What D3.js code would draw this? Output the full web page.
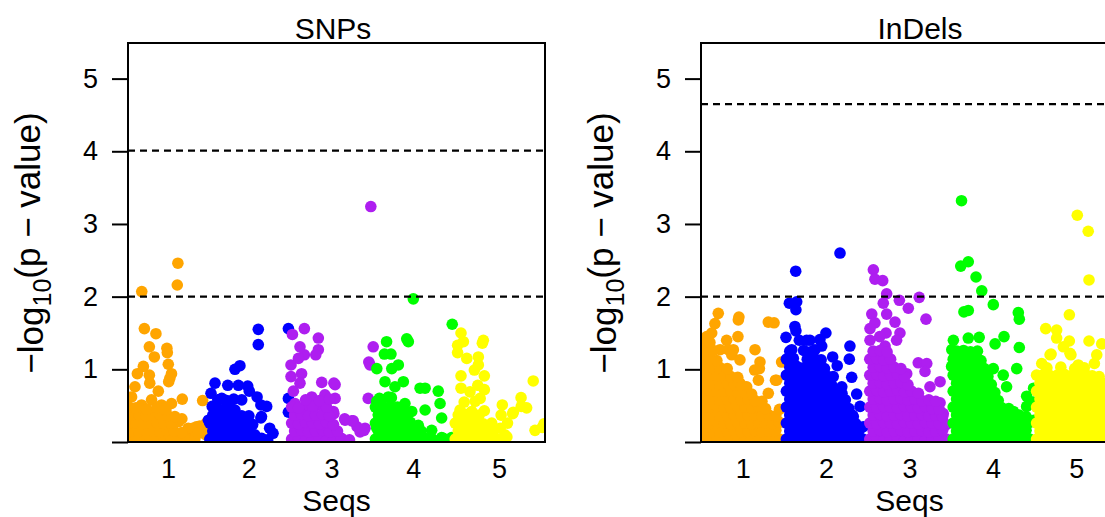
<!DOCTYPE html>
<html lang="en">
<head>
<meta charset="UTF-8">
<title>Manhattan plots - SNPs and InDels</title>
<script src="https://d3js.org/d3.v7.min.js"></script>
<style>
  body { margin: 0; background: #ffffff; }
  svg { display: block; font-family: "Liberation Sans", Arial, sans-serif; }
</style>
</head>
<body>
<div id="chart"></div>
<script>
// Chromosome labels, colours and axis ticks
const chrLabels = ["1", "2", "3", "4", "5"];
const chrColors = ["#FFA500", "#0000FF", "#AE1EF0", "#00FF00", "#FFFF00"];
const yTicks = [0, 1, 2, 3, 4, 5];
const yMax = 5.49;

// Chromosome lengths (marker index units) for each panel
const snpChrLen = [40, 41, 42, 40, 46];
const indelChrLen = [42, 42, 42, 42, 42];

// Significance thresholds (-log10 p)
const snpThresholds = [2, 4.01];
const indelThresholds = [2, 4.65];

// SNPs: [position within chromosome, -log10(p)]
const snpChr1 = [
  [6.9,2.07],[24.7,2.16],[25.0,2.46],[8.2,1.56],[14.0,1.49],[10.7,1.31],[13.2,1.17],[19.5,1.29],[19.7,1.23],
  [20.2,1.07],[7.7,1.04],[4.7,0.94],[10.7,0.92],[21.8,0.94],[3.5,0.76],[10.9,0.81],[15.2,0.70],[20.4,0.83],
  [21.0,0.88],[27.2,0.59],[37.4,0.57],[1.8,0.62],[6.8,0.51],[11.8,0.58],[16.8,0.51],[21.8,0.53],[25.4,0.28],
  [30.6,0.10],[34.3,0.21],[27.0,0.32],[30.2,0.19],[32.4,0.19],[36.0,0.22],[38.6,0.20],[38.9,0.10],[39.2,0.26],
  [0.5,0.04],[4,0.05],[7.5,0.03],[11,0.04],[14.5,0.05],[18,0.03],[21.5,0.04],[25,0.05],[29,0.03],[33.5,0.04],
  [2,0.15],[5.5,0.14],[9,0.16],[12.5,0.15],[16,0.14],[19.5,0.16],[23,0.15],[27,0.13],[35,0.12],
  [0.5,0.26],[4,0.27],[7.5,0.25],[11,0.26],[14.5,0.27],[18,0.25],[21.5,0.26],
  [2,0.37],[5.5,0.38],[9,0.36],[12.5,0.37],[16,0.38],[20,0.36],[23.5,0.35],
  [0.5,0.48],[4,0.47],[9.5,0.45],[14.5,0.47],[19,0.44]
];
const snpChr2 = [
  [25.3,1.55],[25.3,1.34],[13.6,1.00],[16.1,1.05],[3.6,0.81],[10.0,0.78],[15.3,0.78],[20.0,0.77],[1.6,0.67],
  [7.0,0.60],[17.0,0.58],[2.2,0.49],[8.6,0.46],[13.6,0.44],[26.6,0.51],[29.5,0.49],[20.6,0.36],[26.6,0.33],
  [0.3,0.30],[6.0,0.28],[12.0,0.23],[31.0,0.19],[18.6,0.14],[23.6,0.10],[8.6,0.10],[15.3,0.07],[2.8,0.10],
  [24.7,0.62],[26.9,0.35],[32.7,0.12],[40.4,1.56],[40.4,0.60],[40.4,0.41],[20.8,0.70],
  [1,0.04],[4.5,0.05],[8,0.03],[11.5,0.04],[15,0.05],[18.5,0.03],[22,0.04],[27,0.05],[30,0.03],
  [2.5,0.15],[6,0.16],[9.5,0.14],[13,0.15],[16.5,0.16],[20,0.14],
  [1,0.26],[4.5,0.25],[8,0.27],[11.5,0.26],[15,0.25],[18,0.27],[22.5,0.24],
  [2.5,0.37],[6,0.38],[9.5,0.36],[13,0.37],[17,0.36],
  [4.5,0.48],[11,0.49],[5,0.58],[9.5,0.57],[13,0.59]
];
const snpChr3 = [
  [1.4,1.48],[7.4,1.56],[14.4,1.43],[14.4,1.27],[13.1,1.20],[7.4,1.20],[4.4,1.15],[0.7,1.06],[0.7,0.90],
  [6.0,0.94],[5.2,0.81],[16.1,0.82],[22.8,0.79],[1.9,0.70],[11.1,0.62],[17.7,0.65],[22.8,0.60],[2.7,0.53],
  [7.7,0.49],[14.4,0.51],[21.9,0.42],[27.8,0.30],[31.9,0.29],[37.8,0.19],[35.3,0.14],[39.4,0.60],[39.7,1.10],
  [41.9,1.31],[40.3,1.06],[40.7,3.24],[37.3,0.16],[33.8,0.21],[31.2,0.29],[27.6,0.32],[23.1,0.10],[22.2,0.81],
  [22.2,0.39],[5.2,1.31],
  [1,0.04],[4.5,0.05],[8,0.03],[11.5,0.04],[15,0.05],[18.5,0.03],[22,0.04],[26,0.05],[30,0.03],
  [2.5,0.15],[6,0.16],[9.5,0.14],[13,0.15],[16.5,0.16],[20,0.14],[24,0.15],
  [1,0.26],[4.5,0.25],[8,0.27],[11.5,0.26],[15,0.25],[18.5,0.27],[22,0.24],
  [2.5,0.37],[6,0.38],[9.5,0.36],[13,0.37],[16.5,0.38],[20,0.36],
  [1,0.48],[4.5,0.47],[11.5,0.49],[18.5,0.48],[8,0.58],[15,0.57],[20,0.59]
];
const snpChr4 = [
  [20.0,1.97],[39.5,1.62],[6.6,1.38],[16.7,1.42],[17.5,1.38],[5.5,1.21],[8.8,1.21],[1.7,1.01],[12.5,1.06],
  [9.2,1.01],[5.8,0.83],[15.0,0.83],[10.8,0.76],[23.4,0.74],[25.9,0.74],[32.5,0.70],[33.4,0.53],[34.2,0.33],
  [1.7,0.56],[4.2,0.58],[7.5,0.62],[15.8,0.53],[19.2,0.42],[25.9,0.44],[2.5,0.37],[9.2,0.33],[14.2,0.33],
  [22.5,0.23],[29.2,0.16],[1.7,0.19],[5.8,0.14],[12.5,0.10],[19.2,0.14],[34.2,0.06],[39.2,0.06],[35.0,0.05],
  [1,0.04],[4.5,0.05],[8,0.03],[11.5,0.04],[15,0.05],[18.5,0.03],[22,0.04],[26,0.05],[30,0.03],
  [2.5,0.15],[6,0.16],[9.5,0.14],[13,0.15],[16.5,0.16],[20,0.14],[24,0.15],
  [1,0.26],[4.5,0.25],[8,0.27],[11.5,0.26],[15,0.25],[18.5,0.27],
  [2.5,0.37],[6,0.38],[9.5,0.36],[13,0.37],[16.5,0.38],
  [1,0.48],[5,0.47],[8.5,0.49],[12,0.48],[15,0.46],[3,0.60],[9,0.61]
];
const snpChr5 = [
  [3.9,1.50],[5.1,1.38],[2.2,1.33],[2.2,1.23],[6.8,1.15],[15.1,1.40],[14.6,1.36],[12.6,1.17],[12.6,1.06],
  [10.6,0.99],[3.9,0.91],[15.6,0.91],[3.9,0.74],[12.3,0.78],[15.6,0.72],[8.4,0.69],[40.1,0.84],[34.0,0.61],
  [36.8,0.47],[24.6,0.51],[24.0,0.37],[30.1,0.41],[15.6,0.43],[3.4,0.44],[9.3,0.42],[41.0,0.16],[44.6,0.20],
  [19.3,0.26],[23.5,0.19],[25.9,0.10],[29.8,0.39],[27.2,0.26],[15.5,0.12],[26.9,0.07],[34.1,0.49],[45.5,0.25],
  [1,0.04],[4.5,0.05],[8,0.03],[11.5,0.04],[15,0.05],[18.5,0.03],[22,0.04],[26,0.05],
  [2.5,0.15],[6,0.16],[9.5,0.14],[13,0.15],[16.5,0.16],[20,0.14],
  [1,0.26],[4.5,0.25],[8,0.27],[11.5,0.26],[15,0.25],
  [2.5,0.37],[6,0.38],[9.5,0.36],[13,0.37],[5.5,0.55],[11,0.56],[13.5,0.60]
];

// InDels: [position within chromosome, -log10(p)]
const indelChr1 = [
  [8.7,1.77],[7.0,1.63],[5.4,1.50],[2.9,1.45],[19.1,1.72],[18.8,1.68],[33.9,1.65],[36.8,1.64],[12.9,1.40],
  [18.6,1.45],[13.7,1.27],[9.6,1.27],[16.3,1.27],[15.5,1.20],[19.6,1.13],[27.2,1.27],[29.7,1.10],[29.4,1.01],
  [27.0,0.99],[40.6,1.10],[37.5,0.85],[38.1,0.85],[33.9,0.67],[19.6,0.81],[23.0,0.76],[28.9,0.85],[26.3,0.58],
  [35.6,0.35],
  [1,0.04],[4.5,0.05],[8,0.03],[11.5,0.04],[15,0.05],[18.5,0.03],[22,0.04],[25.5,0.05],[29,0.03],[32.5,0.04],[36,0.05],[39.5,0.04],
  [2.7,0.15],[6.2,0.16],[9.7,0.14],[13.2,0.15],[16.7,0.16],[20.2,0.14],[23.7,0.15],[27.2,0.16],[30.7,0.14],[34.2,0.15],[37.7,0.16],
  [1,0.26],[4.5,0.25],[8,0.27],[11.5,0.26],[15,0.25],[18.5,0.27],[22,0.26],[25.5,0.25],[29,0.27],[32.5,0.26],[36,0.25],[39.5,0.27],
  [2.7,0.37],[6.2,0.38],[9.7,0.36],[13.2,0.37],[16.7,0.38],[20.2,0.36],[23.7,0.37],[27.2,0.38],[30.7,0.36],[34.2,0.37],[37.7,0.36],
  [1,0.48],[4.5,0.47],[8,0.49],[11.5,0.48],[15,0.47],[18.5,0.49],[22,0.48],[25.5,0.47],[29,0.49],[32.5,0.46],[39.5,0.45],
  [2.7,0.59],[6.2,0.60],[9.7,0.58],[13.2,0.59],[16.7,0.60],[20.2,0.58],[23.7,0.59],[27.2,0.57],[30.7,0.56],
  [1,0.70],[4.5,0.71],[8,0.69],[11.5,0.70],[15,0.71],[18.5,0.69],[22,0.68],[25.5,0.66],
  [2.7,0.81],[6.2,0.82],[9.7,0.80],[13.2,0.81],[16.7,0.79],[20.2,0.78],
  [1,0.92],[4.5,0.93],[8,0.91],[11.5,0.92],[15,0.90],[18.5,0.89],
  [2.7,1.03],[6.2,1.04],[9.7,1.02],[13.2,1.01],[1,1.14],[4.5,1.15],[8,1.12],
  [2.7,1.25],[6.2,1.26],[1,1.36],[4.5,1.37]
];
const indelChr2 = [
  [5.7,2.35],[28.0,2.60],[2.5,1.91],[6.2,1.93],[5.8,1.82],[5.3,1.59],[5.8,1.53],[0.8,1.44],[7.5,1.40],
  [12.9,1.40],[17.9,1.41],[20.9,1.50],[11.2,1.40],[18.8,1.32],[15.4,1.27],[3.7,1.27],[33.0,1.32],[32.7,1.14],
  [24.3,1.17],[26.6,1.05],[33.9,0.89],[24.6,0.90],[28.9,0.76],[36.4,0.66],[38.1,0.49],[34.7,0.35],[39.7,0.21],
  [36.4,0.07],[2.5,1.10],
  [1,0.04],[4.5,0.05],[8,0.03],[11.5,0.04],[15,0.05],[18.5,0.03],[22,0.04],[25.5,0.05],[29,0.03],[32.5,0.04],[36,0.05],[39.5,0.04],
  [2.7,0.15],[6.2,0.16],[9.7,0.14],[13.2,0.15],[16.7,0.16],[20.2,0.14],[23.7,0.15],[27.2,0.16],[30.7,0.14],[34.2,0.15],[37.7,0.16],
  [1,0.26],[4.5,0.25],[8,0.27],[11.5,0.26],[15,0.25],[18.5,0.27],[22,0.26],[25.5,0.25],[29,0.27],[32.5,0.26],[36,0.25],
  [2.7,0.37],[6.2,0.38],[9.7,0.36],[13.2,0.37],[16.7,0.38],[20.2,0.36],[23.7,0.37],[27.2,0.38],[30.7,0.36],[34.2,0.37],
  [1,0.48],[4.5,0.47],[8,0.49],[11.5,0.48],[15,0.47],[18.5,0.49],[22,0.48],[25.5,0.47],[29,0.49],[32.5,0.46],
  [2.7,0.59],[6.2,0.60],[9.7,0.58],[13.2,0.59],[16.7,0.60],[20.2,0.58],[23.7,0.59],[27.2,0.57],[30.7,0.58],
  [1,0.70],[4.5,0.71],[8,0.69],[11.5,0.70],[15,0.71],[18.5,0.69],[22,0.70],[25.5,0.68],[29,0.67],
  [2.7,0.81],[6.2,0.82],[9.7,0.80],[13.2,0.81],[16.7,0.82],[20.2,0.80],[23.7,0.79],
  [1,0.92],[4.5,0.93],[8,0.91],[11.5,0.92],[15,0.93],[18.5,0.91],[22,0.90],
  [2.7,1.03],[6.2,1.04],[9.7,1.02],[13.2,1.03],[16.7,1.04],[20.2,1.01],
  [1,1.14],[4.5,1.15],[11.5,1.14],[15,1.15],[18.5,1.13],[2.7,1.25],[9.7,1.26],[13.2,1.24]
];
const indelChr3 = [
  [2.8,2.37],[7.5,2.22],[3.6,2.24],[9.5,2.04],[7.8,1.91],[15.9,1.95],[20.4,1.84],[25.9,1.99],[29.3,1.69],
  [2.0,1.76],[9.5,1.76],[13.7,1.65],[3.6,1.64],[16.2,1.50],[9.2,1.50],[1.1,1.56],[1.1,1.40],[8.7,1.32],
  [25.4,1.09],[29.7,1.08],[28.8,0.97],[36.4,0.83],[31.3,0.76],[19.6,0.94],[32.2,0.53],[36.4,0.54],[38.0,0.39],
  [14.5,1.40],[6.0,1.45],
  [1,0.04],[4.5,0.05],[8,0.03],[11.5,0.04],[15,0.05],[18.5,0.03],[22,0.04],[25.5,0.05],[29,0.03],[32.5,0.04],[36,0.05],[39.5,0.04],
  [2.7,0.15],[6.2,0.16],[9.7,0.14],[13.2,0.15],[16.7,0.16],[20.2,0.14],[23.7,0.15],[27.2,0.16],[30.7,0.14],[34.2,0.15],[37.7,0.16],
  [1,0.26],[4.5,0.25],[8,0.27],[11.5,0.26],[15,0.25],[18.5,0.27],[22,0.26],[25.5,0.25],[29,0.27],[32.5,0.26],[36,0.25],[39.5,0.24],
  [2.7,0.37],[6.2,0.38],[9.7,0.36],[13.2,0.37],[16.7,0.38],[20.2,0.36],[23.7,0.37],[27.2,0.38],[30.7,0.36],[34.2,0.37],[37.7,0.35],
  [1,0.48],[4.5,0.47],[8,0.49],[11.5,0.48],[15,0.47],[18.5,0.49],[22,0.48],[25.5,0.47],[29,0.49],[32.5,0.46],[36,0.45],
  [2.7,0.59],[6.2,0.60],[9.7,0.58],[13.2,0.59],[16.7,0.60],[20.2,0.58],[23.7,0.59],[27.2,0.57],[30.7,0.58],[34.2,0.56],
  [1,0.70],[4.5,0.71],[8,0.69],[11.5,0.70],[15,0.71],[18.5,0.69],[22,0.70],[25.5,0.67],
  [2.7,0.81],[6.2,0.82],[9.7,0.80],[13.2,0.81],[16.7,0.82],[20.2,0.79],
  [1,0.92],[4.5,0.93],[8,0.91],[11.5,0.92],[15,0.93],[18.5,0.90],
  [2.7,1.03],[6.2,1.04],[9.7,1.02],[13.2,1.03],[16.7,1.01],
  [1,1.14],[4.5,1.15],[8,1.13],[11.5,1.14],[2.7,1.25],[6.2,1.26],[9.7,1.24]
];
const indelChr4 = [
  [5.2,3.32],[4.8,2.42],[8.6,2.48],[12.5,2.27],[15.4,2.08],[21.2,1.89],[6.4,1.79],[8.6,1.81],[33.8,1.78],
  [34.3,1.69],[1.1,1.40],[8.6,1.43],[14.1,1.44],[22.1,1.35],[26.6,1.45],[34.3,1.30],[33.0,1.01],[21.2,1.01],
  [26.2,0.92],[27.9,0.76],[38.0,0.63],[31.3,0.42],[38.0,0.49],[0.3,1.27],[0.2,1.04],[41.5,0.74],[41.3,0.55],
  [41.6,0.30],
  [1,0.04],[4.5,0.05],[8,0.03],[11.5,0.04],[15,0.05],[18.5,0.03],[22,0.04],[25.5,0.05],[29,0.03],[32.5,0.04],[36,0.05],[39.5,0.04],
  [2.7,0.15],[6.2,0.16],[9.7,0.14],[13.2,0.15],[16.7,0.16],[20.2,0.14],[23.7,0.15],[27.2,0.16],[30.7,0.14],[34.2,0.15],[37.7,0.16],
  [1,0.26],[4.5,0.25],[8,0.27],[11.5,0.26],[15,0.25],[18.5,0.27],[22,0.26],[25.5,0.25],[29,0.27],[32.5,0.26],[36,0.25],[39.5,0.27],
  [2.7,0.37],[6.2,0.38],[9.7,0.36],[13.2,0.37],[16.7,0.38],[20.2,0.36],[23.7,0.37],[27.2,0.38],[30.7,0.36],[34.2,0.37],[37.7,0.35],
  [1,0.48],[4.5,0.47],[8,0.49],[11.5,0.48],[15,0.47],[18.5,0.49],[22,0.48],[25.5,0.47],[29,0.46],
  [2.7,0.59],[6.2,0.60],[9.7,0.58],[13.2,0.59],[16.7,0.60],[20.2,0.58],[23.7,0.57],
  [1,0.70],[4.5,0.71],[8,0.69],[11.5,0.70],[15,0.71],[18.5,0.69],[22,0.68],
  [2.7,0.81],[6.2,0.82],[9.7,0.80],[13.2,0.81],[16.7,0.82],[20.2,0.79],
  [1,0.92],[4.5,0.93],[8,0.91],[11.5,0.92],[15,0.93],[18.5,0.90],
  [2.7,1.03],[6.2,1.04],[9.7,1.02],[13.2,1.03],[16.7,1.01],
  [1,1.14],[4.5,1.15],[8,1.13],[11.5,1.14],[15,1.12],[2.7,1.25],[6.2,1.26],[9.7,1.24],[13.2,1.25]
];
const indelChr5 = [
  [21.5,3.12],[27.0,2.90],[27.4,2.23],[17.5,1.75],[5.6,1.56],[11.1,1.54],[11.1,1.43],[17.5,1.39],[27.4,1.39],
  [33.8,1.35],[14.5,1.31],[8.3,1.21],[18.3,1.20],[31.3,1.20],[30.1,1.08],[3.6,1.08],[22.0,1.06],[17.8,1.22],
  [7.8,1.20],
  [1,0.04],[4.5,0.05],[8,0.03],[11.5,0.04],[15,0.05],[18.5,0.03],[22,0.04],[25.5,0.05],[29,0.03],[32.5,0.04],[36,0.05],[39.5,0.04],
  [2.7,0.15],[6.2,0.16],[9.7,0.14],[13.2,0.15],[16.7,0.16],[20.2,0.14],[23.7,0.15],[27.2,0.16],[30.7,0.14],[34.2,0.15],[37.7,0.16],
  [1,0.26],[4.5,0.25],[8,0.27],[11.5,0.26],[15,0.25],[18.5,0.27],[22,0.26],[25.5,0.25],[29,0.27],[32.5,0.26],[36,0.25],[39.5,0.27],
  [2.7,0.37],[6.2,0.38],[9.7,0.36],[13.2,0.37],[16.7,0.38],[20.2,0.36],[23.7,0.37],[27.2,0.38],[30.7,0.36],[34.2,0.37],[37.7,0.36],
  [1,0.48],[4.5,0.47],[8,0.49],[11.5,0.48],[15,0.47],[18.5,0.49],[22,0.48],[25.5,0.47],[29,0.49],[32.5,0.48],[36,0.47],[39.5,0.48],
  [2.7,0.59],[6.2,0.60],[9.7,0.58],[13.2,0.59],[16.7,0.60],[20.2,0.58],[23.7,0.59],[27.2,0.60],[30.7,0.58],[34.2,0.59],[37.7,0.57],
  [1,0.70],[4.5,0.71],[8,0.69],[11.5,0.70],[15,0.71],[18.5,0.69],[22,0.70],[25.5,0.71],[29,0.69],[32.5,0.70],[36,0.68],[39.5,0.69],
  [2.7,0.81],[6.2,0.82],[9.7,0.80],[13.2,0.81],[16.7,0.82],[20.2,0.80],[23.7,0.81],[27.2,0.82],[30.7,0.80],[34.2,0.81],[37.7,0.79],
  [1,0.92],[4.5,0.93],[8,0.91],[11.5,0.92],[15,0.93],[18.5,0.91],[22,0.92],[25.5,0.93],[29,0.91],[32.5,0.90],
  [6.2,1.02],[13.2,1.03],[20.2,1.01],[25.0,1.02]
];

const snpData = [snpChr1, snpChr2, snpChr3, snpChr4, snpChr5];
const indelData = [indelChr1, indelChr2, indelChr3, indelChr4, indelChr5];

// Layout
const width = 1105, height = 517;
const margin = {top: 43, left: 128};
const plotW = 417, plotH = 399;
const panelStep = 573;

const svg = d3.select("#chart").append("svg")
    .attr("width", width)
    .attr("height", height);

function drawPanel(idx, title, titleX, chrLen, chrData, thresholds) {
    const left = margin.left + idx * panelStep;
    const g = svg.append("g").attr("transform", `translate(${left},${margin.top})`);

    const offsets = [0];
    chrLen.forEach((len, i) => offsets.push(offsets[i] + len));
    const x = d3.scaleLinear().domain([0, d3.sum(chrLen)]).range([0, plotW]);
    const y = d3.scaleLinear().domain([0, yMax]).range([plotH, 0]);

    // clip to the plot region like R does
    g.append("clipPath").attr("id", "clip" + idx)
        .append("rect").attr("width", plotW).attr("height", plotH);
    const plot = g.append("g").attr("clip-path", `url(#clip${idx})`);

    chrData.forEach((pts, i) => {
        plot.append("g").selectAll("circle")
            .data(pts)
            .join("circle")
            .attr("cx", d => x(offsets[i] + d[0]))
            .attr("cy", d => y(d[1]))
            .attr("r", 5.8)
            .attr("fill", chrColors[i]);
    });

    // threshold lines
    plot.selectAll("line.thr")
        .data(thresholds)
        .join("line")
        .attr("class", "thr")
        .attr("x1", 0).attr("x2", plotW)
        .attr("y1", d => y(d)).attr("y2", d => y(d))
        .attr("stroke", "#000")
        .attr("stroke-width", 2.2)
        .attr("stroke-dasharray", "7,5");

    // box
    g.append("rect")
        .attr("width", plotW).attr("height", plotH)
        .attr("fill", "none").attr("stroke", "#000").attr("stroke-width", 2);

    // Y axis
    const yAxis = g.append("g")
        .call(d3.axisLeft(y).tickValues(yTicks).tickSize(16).tickPadding(14)
            .tickFormat(d => d === 0 ? "" : d));
    yAxis.select(".domain").remove();
    yAxis.selectAll("line").attr("stroke", "#000").attr("stroke-width", 2);
    yAxis.selectAll("text").attr("font-size", 27).attr("fill", "#000")
        .attr("font-family", "Liberation Sans, Arial, sans-serif");

    // X axis: chromosome labels at chromosome centres
    const xAxis = g.append("g")
        .attr("transform", `translate(0,${plotH})`)
        .call(d3.axisBottom(x)
            .tickValues(chrLen.map((len, i) => offsets[i] + len / 2))
            .tickSize(0).tickPadding(17)
            .tickFormat((d, i) => chrLabels[i]));
    xAxis.select(".domain").remove();
    xAxis.selectAll("text").attr("font-size", 27).attr("fill", "#000")
        .attr("font-family", "Liberation Sans, Arial, sans-serif");

    // title
    svg.append("text")
        .attr("x", titleX).attr("y", 39)
        .attr("text-anchor", "middle")
        .attr("font-size", 30)
        .text(title);

    // x label
    svg.append("text")
        .attr("x", left + plotW / 2).attr("y", 511)
        .attr("text-anchor", "middle")
        .attr("font-size", 30)
        .text("Seqs");

    // y label
    const yl = svg.append("text")
        .attr("transform", `translate(${left - 97},243) rotate(-90)`)
        .attr("text-anchor", "middle")
        .attr("dy", "0.35em")
        .attr("font-size", 35);
    yl.append("tspan").text("\u2212log");
    yl.append("tspan").attr("font-size", 25).attr("dy", "0.3em").text("10");
    yl.append("tspan").attr("dy", "-0.3em").text("(p \u2212 value)");
}

drawPanel(0, "SNPs", 333, snpChrLen, snpData, snpThresholds);
drawPanel(1, "InDels", 920, indelChrLen, indelData, indelThresholds);
</script>
</body>
</html>
